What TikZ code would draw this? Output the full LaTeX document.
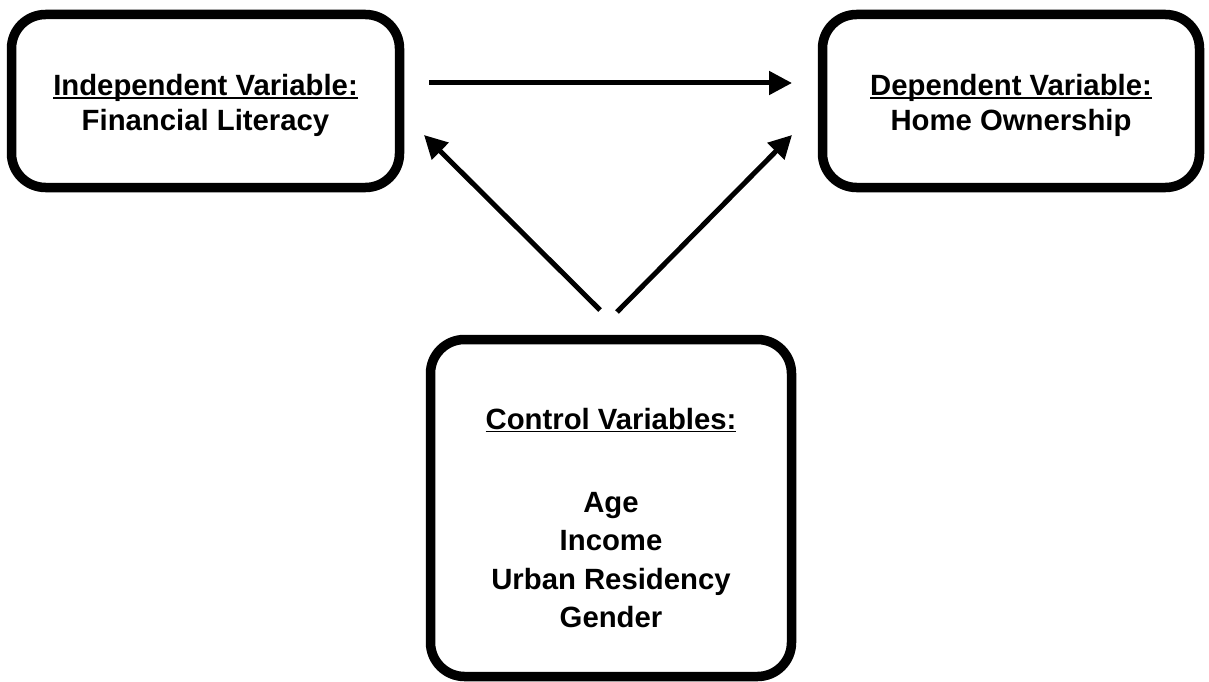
\documentclass[tikz,border=0pt]{standalone}
\usepackage{fontspec}
\setmainfont{Liberation Sans}
\usetikzlibrary{arrows.meta}

% underline that sits just under the baseline and crosses descenders
\newcommand\headline[1]{\setbox0\hbox{#1}\rlap{\rule[-3.2pt]{\wd0}{1.8pt}}\box0}

\begin{document}
\begin{tikzpicture}[x=1pt,y=-1pt,
  varbox/.style={draw=black, line width=9.5pt, rounded corners=34pt, fill=white,
    align=center, inner sep=0pt, font=\fontsize{29.3}{35}\selectfont\bfseries},
  link/.style={line width=5pt, -{Triangle[length=23pt,width=23pt]}}]
  \useasboundingbox (0,0) rectangle (1209,682);

  \node[varbox, minimum width=388pt, minimum height=173pt] (ind) at (205.5,101)
    {\rule{0pt}{31pt}\headline{Independent Variable:}\\Financial Literacy};
  \node[varbox, minimum width=377pt, minimum height=173pt] (dep) at (1011,101)
    {\rule{0pt}{31pt}\headline{Dependent Variable:}\\Home Ownership};
  \node[varbox, minimum width=361pt, minimum height=337pt,
    font=\fontsize{29.3}{38.5}\selectfont\bfseries] (ctl) at (611,508)
    {\rule{0pt}{41pt}\headline{Control Variables:}\\[6pt]\\Age\\Income\\Urban Residency\\Gender};

  % free-standing arrow ends between the boxes
  \coordinate (hs) at (429,83);
  \coordinate (he) at (792,83);
  \coordinate (ls) at (600,310);
  \coordinate (le) at (424,135);
  \coordinate (rs) at (617,312);
  \coordinate (re) at (792,135);

  \draw[link] (hs) -- (he);
  \draw[link] (ls) -- (le);
  \draw[link] (rs) -- (re);
\end{tikzpicture}
\end{document}
